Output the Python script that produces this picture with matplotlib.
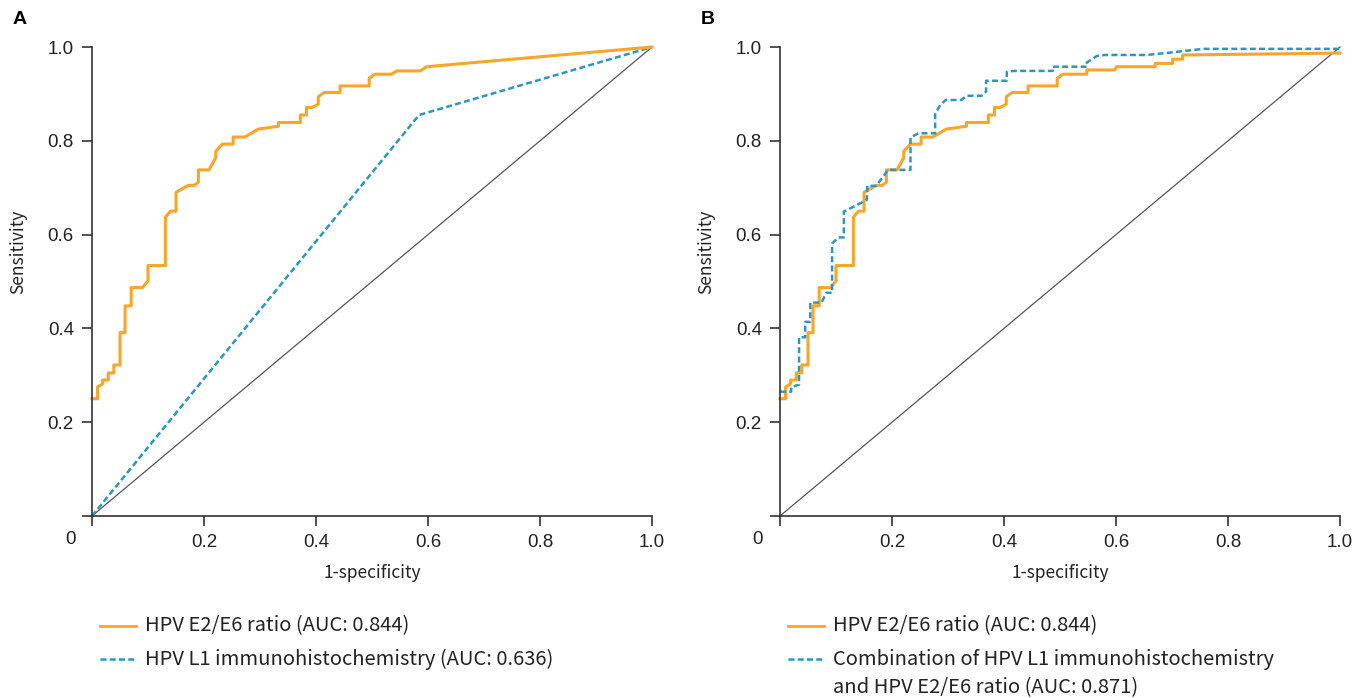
import numpy as np
import matplotlib
matplotlib.use("Agg")
import matplotlib.pyplot as plt
from matplotlib.lines import Line2D

# ROC points (1-specificity, sensitivity)
e2e6_fpr = [0, 0.01, 0.01, 0.019, 0.019, 0.029, 0.029, 0.039, 0.039, 0.05, 0.05,
            0.059, 0.059, 0.07, 0.07, 0.09, 0.1, 0.1, 0.131, 0.131, 0.14, 0.15,
            0.15, 0.172, 0.183, 0.19, 0.19, 0.209, 0.221, 0.221, 0.233, 0.252,
            0.252, 0.273, 0.297, 0.333, 0.333, 0.372, 0.372, 0.383, 0.383, 0.393,
            0.404, 0.404, 0.415, 0.443, 0.443, 0.495, 0.495, 0.505]
e2e6_tpr = [0.25, 0.25, 0.275, 0.282, 0.29, 0.29, 0.305, 0.305, 0.322, 0.322, 0.391,
            0.391, 0.448, 0.448, 0.487, 0.487, 0.501, 0.534, 0.534, 0.637, 0.65, 0.65,
            0.69, 0.705, 0.705, 0.712, 0.738, 0.738, 0.764, 0.778, 0.793, 0.793,
            0.808, 0.808, 0.825, 0.831, 0.839, 0.839, 0.855, 0.855, 0.871, 0.871,
            0.878, 0.894, 0.903, 0.903, 0.917, 0.917, 0.933, 0.942]
# tail of the E2/E6 curve, panel A
e2e6_tail_a_fpr = [0.535, 0.544, 0.586, 0.598, 1.0]
e2e6_tail_a_tpr = [0.942, 0.949, 0.949, 0.958, 1.0]
# tail of the E2/E6 curve, panel B
e2e6_tail_b_fpr = [0.548, 0.548, 0.598, 0.601, 0.670, 0.670, 0.701, 0.701, 0.719, 0.719, 1.0]
e2e6_tail_b_tpr = [0.942, 0.951, 0.951, 0.958, 0.958, 0.965, 0.965, 0.974, 0.974, 0.983, 0.987]

l1_fpr = [0, 0.584, 1.0]
l1_tpr = [0, 0.855, 1.0]

comb_fpr = [0, 0.02, 0.02, 0.034, 0.034, 0.045, 0.045, 0.054, 0.054, 0.074, 0.083,
            0.093, 0.093, 0.104, 0.114, 0.114, 0.155, 0.156, 0.172, 0.193, 0.233,
            0.233, 0.247, 0.277, 0.277, 0.286, 0.296, 0.324, 0.333, 0.360, 0.368,
            0.368, 0.405, 0.405, 0.417, 0.487, 0.487, 0.548, 0.548, 0.566, 0.58,
            0.655, 0.696, 0.756, 1.0]
comb_tpr = [0.265, 0.265, 0.275, 0.28, 0.381, 0.381, 0.414, 0.414, 0.455, 0.455, 0.476,
            0.476, 0.581, 0.594, 0.594, 0.649, 0.674, 0.704, 0.704, 0.738, 0.738,
            0.807, 0.816, 0.816, 0.857, 0.876, 0.887, 0.887, 0.896, 0.896, 0.905,
            0.928, 0.928, 0.947, 0.949, 0.949, 0.958, 0.958, 0.967, 0.981, 0.983,
            0.983, 0.988, 0.996, 0.996]

ticks = [0, 0.2, 0.4, 0.6, 0.8, 1.0]
tick_labels = ["", "0.2", "0.4", "0.6", "0.8", "1.0"]

orange = "#F8A52A"
blue = "#2B96C2"
W, H = 1370, 698
label_font = ["Noto Sans CJK KR", "DejaVu Sans"]

plt.rcParams['font.family'] = ['Liberation Sans', 'DejaVu Sans']
fig = plt.figure(figsize=(W / 100, H / 100), dpi=100)


def fx(px):
    return px / W


def fy(py):
    return 1 - py / H


def setup(ax):
    ax.set_xlim(0, 1)
    ax.set_ylim(0, 1)
    for s in ["top", "right"]:
        ax.spines[s].set_visible(False)
    for s in ["left", "bottom"]:
        ax.spines[s].set_linewidth(1.2)
        ax.spines[s].set_color("#333333")
    ax.set_xticks(ticks)
    ax.set_xticklabels(tick_labels)
    ax.set_yticks(ticks)
    ax.set_yticklabels(tick_labels)
    ax.tick_params(length=7, width=1.2, color="#333333", labelsize=13.5,
                   labelcolor="#222222", pad=6)
    ax.plot([0, 1], [0, 1], color="#555555", lw=0.9, clip_on=False)
    ax.set_xlabel("1-specificity", fontsize=12.5, family=label_font,
                  color="#222222", labelpad=9)
    ax.set_ylabel("Sensitivity", fontsize=12.5, family=label_font,
                  color="#222222")
    ax.yaxis.set_label_coords(-0.116, 0.563)


dash = (0, (2.4, 1.3))

# panel A
axA = fig.add_axes([fx(92), fy(516), 560 / W, 469 / H])
setup(axA)
axA.plot(l1_fpr, l1_tpr, color=blue, lw=1.8, ls=dash, clip_on=False)
axA.plot(e2e6_fpr + e2e6_tail_a_fpr, e2e6_tpr + e2e6_tail_a_tpr, color=orange,
         lw=2.2, clip_on=False)

# panel B
axB = fig.add_axes([fx(780), fy(516), 560 / W, 469 / H])
setup(axB)
axB.plot(e2e6_fpr + e2e6_tail_b_fpr, e2e6_tpr + e2e6_tail_b_tpr, color=orange,
         lw=2.2, clip_on=False)
axB.plot(comb_fpr, comb_tpr, color=blue, lw=1.8, ls=dash, clip_on=False)

# origin labels and panel letters
for x0 in (70, 758):
    fig.text(fx(x0), fy(540), "0", fontsize=13.5, color="#222222", ha="center", va="center")
fig.text(fx(19.5), fy(19), "A", fontsize=14, fontweight="bold", ha="center", va="center")
fig.text(fx(708), fy(19), "B", fontsize=14, fontweight="bold", ha="center", va="center")

# legends
def legend_entry(x0, y, color, ls, text):
    fig.add_artist(Line2D([fx(x0), fx(x0 + 36)], [fy(y), fy(y)], color=color, lw=1.8 if ls != "-" else 2.0,
                          ls=ls, transform=fig.transFigure))
    fig.text(fx(x0 + 45), fy(y), text, fontsize=14.5, family=label_font,
             color="#222222", va="center")

legend_entry(100, 626, orange, "-", "HPV E2/E6 ratio (AUC: 0.844)")
legend_entry(100, 659, blue, dash, "HPV L1 immunohistochemistry (AUC: 0.636)")
legend_entry(788, 626, orange, "-", "HPV E2/E6 ratio (AUC: 0.844)")
legend_entry(788, 659, blue, dash, "Combination of HPV L1 immunohistochemistry")
fig.text(fx(833), fy(688), "and HPV E2/E6 ratio (AUC: 0.871)", fontsize=14.5,
         family=label_font, color="#222222", va="center")

fig.savefig("out.png", dpi=100)
